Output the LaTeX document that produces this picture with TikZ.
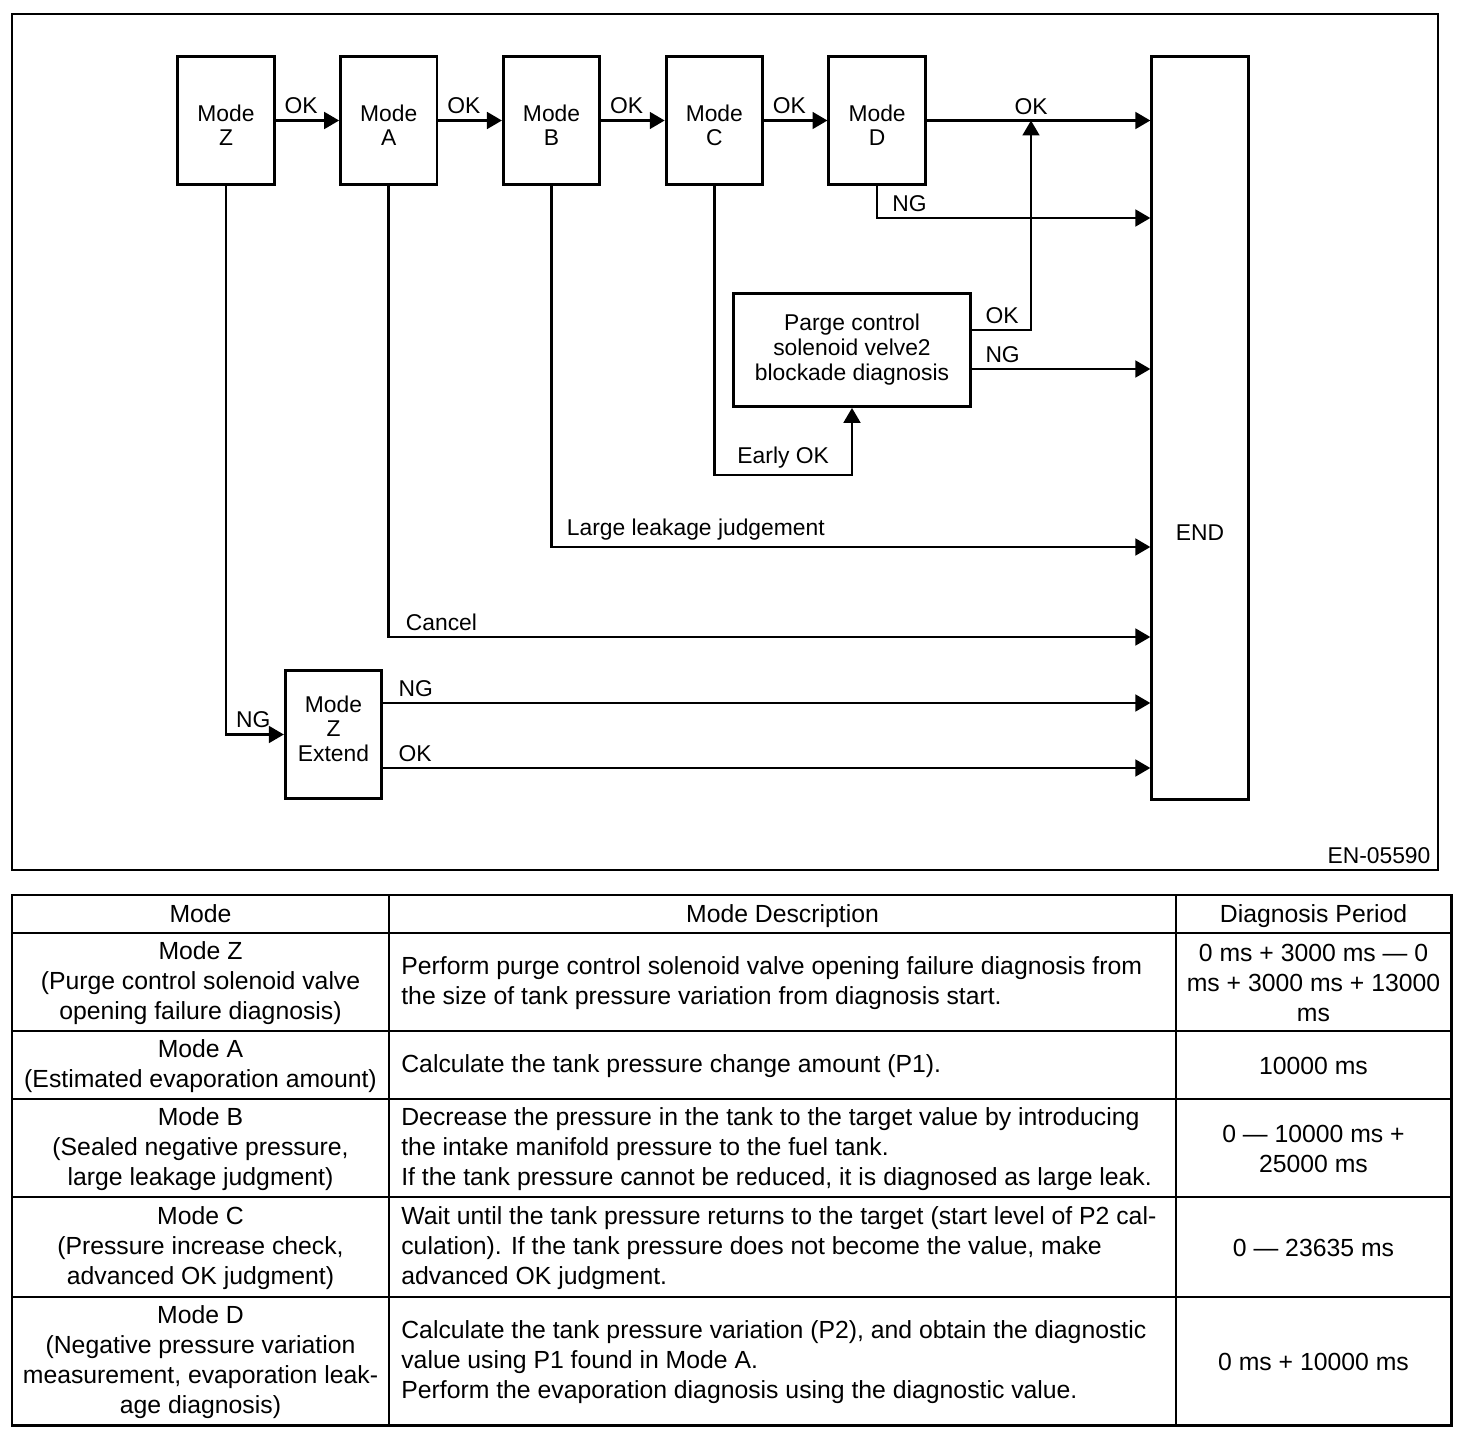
\documentclass[tikz,border=0pt]{standalone}
\usepackage{fontspec}
\setmainfont{Liberation Sans}
\usepackage{tikz}
\usetikzlibrary{arrows.meta,positioning,calc}

\begin{document}
\begin{tikzpicture}[
    x=0.02cm, y=-0.02cm,
    node distance=1.27cm,
    modebox/.style={draw, line width=1.6pt, minimum width=1.93cm, minimum height=2.56cm, align=center, inner sep=0pt, font=\fontsize{13}{13.9}\selectfont},
    endbox/.style={draw, line width=1.6pt, minimum width=1.93cm, minimum height=14.86cm, inner sep=0pt},
    diagbox/.style={draw, line width=1.6pt, minimum width=4.74cm, minimum height=2.26cm, align=center, inner sep=0pt, font=\fontsize{13}{14.2}\selectfont},
    flow/.style={-{Triangle[length=8.5pt,width=9.5pt]}, line width=1.5pt},
    lbl/.style={font=\fontsize{13}{14}\selectfont, inner sep=3pt},
    cell/.style={font=\fontsize{14.1}{17}\selectfont, inner sep=0pt, align=center},
    desc/.style={cell, align=left, anchor=west}
]
    \useasboundingbox (0,0) rectangle (1472,1436);
    \draw[line width=0.9pt] (12,14) rectangle (1438,870);

    \node[modebox] (mz) at (226,120.5) {\rule{0pt}{15pt}Mode\\Z};
    \node[modebox, right=of mz] (ma) {\rule{0pt}{15pt}Mode\\A};
    \node[modebox, right=of ma] (mb) {\rule{0pt}{15pt}Mode\\B};
    \node[modebox, right=of mb] (mc) {\rule{0pt}{15pt}Mode\\C};
    \node[modebox, right=of mc] (md) {\rule{0pt}{15pt}Mode\\D};
    \node[endbox] (end) at (1200,428) {};
    \node[lbl] (endtxt) at (1200,533) {END};
    \node[diagbox] (pc) at (852,350) {Parge control\\solenoid velve2\\blockade diagnosis};
    \node[modebox] (mze) at (333.5,734.5) {Mode\\Z\\Extend\rule[-6.8pt]{0pt}{6.8pt}};

    \draw[flow] (mz) -- node[lbl, pos=0.4, above] {OK} (ma);
    \draw[flow] (ma) -- node[lbl, pos=0.4, above] {OK} (mb);
    \draw[flow] (mb) -- node[lbl, pos=0.4, above] {OK} (mc);
    \draw[flow] (mc) -- node[lbl, pos=0.4, above] {OK} (md);
    \draw[flow] (md.east) -- (md.east -| end.west);
    \node[lbl, above] (okd) at (md.east -| 1031,0) {OK};
    \draw[flow] (md.south) |- node[lbl, pos=0.5, above right, xshift=5pt] {NG} (end.west |- 0,218);

    \draw[flow] (pc.east |- 0,330) -| node[lbl, pos=0, above right, xshift=4pt] {OK} (md.east -| 1031,0);
    \draw[flow] (pc.east |- 0,369) -- node[lbl, pos=0, above right, xshift=4pt] {NG} (end.west |- 0,369);
    \draw[flow] (mc.south) |- node[lbl, pos=0.75, above] {Early OK} (pc.south |- 0,475) -- (pc.south);

    \draw[flow] (mb.south) |- node[lbl, pos=0.5, above right, xshift=5pt] {Large leakage judgement} (end.west |- 0,547);
    \draw[flow] (ma.south) |- node[lbl, pos=0.5, above right, xshift=6pt] {Cancel} (end.west |- 0,637);
    \draw[flow] (mz.south) |- node[lbl, pos=0.5, above right, xshift=2pt] {NG} (mze.west);
    \draw[flow] (mze.east |- 0,703) -- node[lbl, pos=0, above right, xshift=5pt] {NG} (end.west |- 0,703);
    \draw[flow] (mze.east |- 0,768) -- node[lbl, pos=0, above right, xshift=5pt] {OK} (end.west |- 0,768);

    \node[lbl, anchor=east] (fig) at (1436,856) {EN-05590};

    \draw[line width=1.7pt] (12,895) rectangle (1451,1425);
    \foreach \y in {933,1031,1099,1197,1297}
        \draw[line width=1.1pt] (12,\y) -- (1451,\y);
    \foreach \x in {389,1176}
        \draw[line width=1.1pt] (\x,895) -- (\x,1425);

    \node[cell, text depth=0pt] (hmode) at (200.5,914) {Mode};
    \node[cell, text depth=0pt] (hdesc) at (782.5,914) {Mode Description};
    \node[cell, text depth=0pt] (hper) at (1313.5,914) {Diagnosis Period};

    \node[cell] (zmode) at (200.5,983) {Mode Z\\(Purge control solenoid valve\\opening failure diagnosis)};
    \node[desc] (zdesc) at (401,983) {Perform purge control solenoid valve opening failure diagnosis from\\the size of tank pressure variation from diagnosis start.};
    \node[cell] (zper) at (1313.5,983) {0 ms + 3000 ms --- 0\\ms + 3000 ms + 13000\\ms};

    \node[cell] (amode) at (200.5,1066) {Mode A\\(Estimated evaporation amount)};
    \node[desc] (adesc) at (401,1066) {Calculate the tank pressure change amount (P1).};
    \node[cell] (aper) at (1313.5,1066) {10000 ms};

    \node[cell] (bmode) at (200.5,1149) {Mode B\\(Sealed negative pressure,\\large leakage judgment)};
    \node[desc] (bdesc) at (401,1149) {Decrease the pressure in the tank to the target value by introducing\\the intake manifold pressure to the fuel tank.\\If the tank pressure cannot be reduced, it is diagnosed as large leak.};
    \node[cell] (bper) at (1313.5,1149) {0 --- 10000 ms +\\25000 ms};

    \node[cell] (cmode) at (200.5,1248) {Mode C\\(Pressure increase check,\\advanced OK judgment)};
    \node[desc] (cdesc) at (401,1248) {Wait until the tank pressure returns to the target (start level of P2 cal-\\culation). If the tank pressure does not become the value, make\\advanced OK judgment.};
    \node[cell] (cper) at (1313.5,1248) {0 --- 23635 ms};

    \node[cell] (dmode) at (200.5,1362) {Mode D\\(Negative pressure variation\\measurement, evaporation leak-\\age diagnosis)};
    \node[desc] (ddesc) at (401,1362) {Calculate the tank pressure variation (P2), and obtain the diagnostic\\value using P1 found in Mode A.\\Perform the evaporation diagnosis using the diagnostic value.};
    \node[cell] (dper) at (1313.5,1362) {0 ms + 10000 ms};
\end{tikzpicture}
\end{document}
